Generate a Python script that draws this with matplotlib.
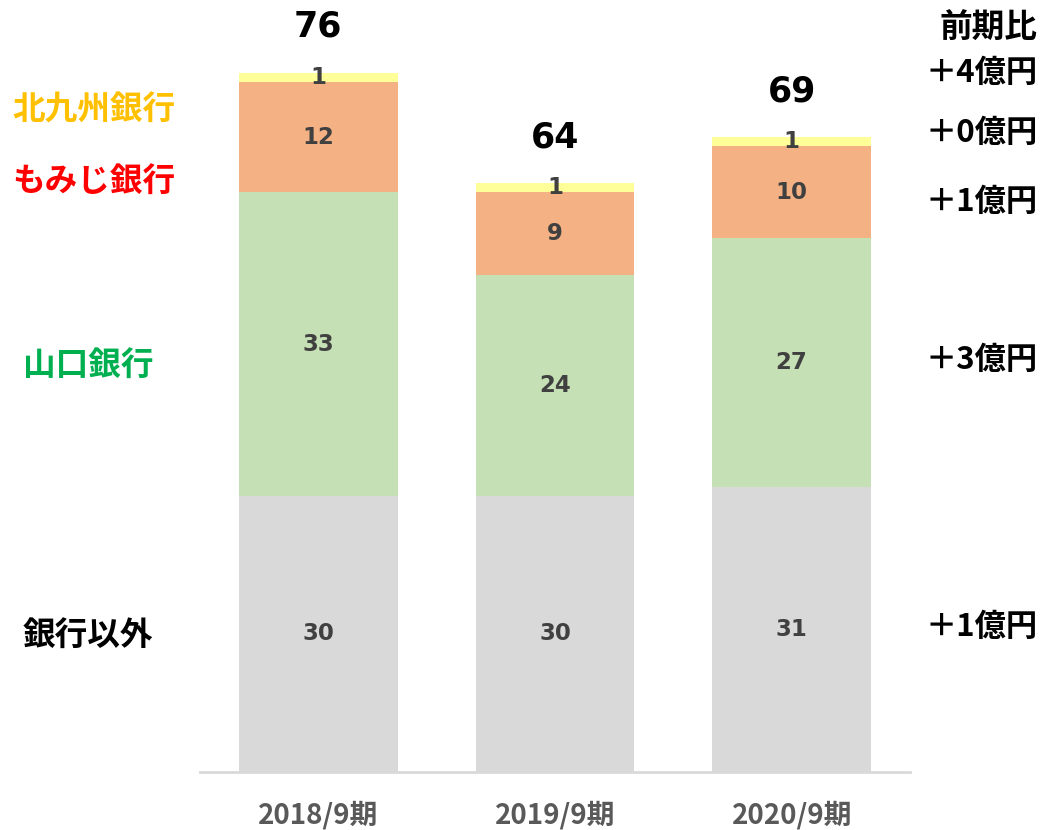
import matplotlib.pyplot as plt
import numpy as np

plt.rcParams['font.family'] = ['DejaVu Sans', 'Noto Sans CJK JP']

categories = ['2018/9期', '2019/9期', '2020/9期']
other = [30, 30, 31]        # 銀行以外
yamaguchi = [33, 24, 27]    # 山口銀行
momiji = [12, 9, 10]        # もみじ銀行
kitakyushu = [1, 1, 1]      # 北九州銀行
totals = [76, 64, 69]

series_names = ['銀行以外', '山口銀行', 'もみじ銀行', '北九州銀行']
diff_labels = ['＋1億円', '＋3億円', '＋1億円', '＋0億円']
total_diff = '＋4億円'

colors = ['#D9D9D9', '#C5E0B4', '#F4B183', '#FFFF99']
name_colors = ['#000000', '#00B050', '#FF0000', '#FFC000']

W, H = 1045, 830
fig = plt.figure(figsize=(W / 100, H / 100), dpi=100)
ax = fig.add_axes([200 / W, (H - 772) / H, 710 / W, 772 / H])

x = np.arange(len(categories))
bottom = np.zeros(len(categories))
for vals, col in zip([other, yamaguchi, momiji, kitakyushu], colors):
    vals = np.array(vals)
    ax.bar(x, vals, width=0.67, bottom=bottom, color=col, edgecolor='none')
    for xi, b, v in zip(x, bottom, vals):
        ax.text(xi, b + v / 2, str(v), ha='center', va='center',
                fontsize=16.5, fontweight='bold', color='#404040')
    bottom += vals

for xi, t in zip(x, totals):
    ax.text(xi, t + 5, str(t), ha='center', va='center',
            fontsize=25, fontweight='bold', color='black')

ax.set_xlim(-0.5, 2.5)
ax.set_ylim(0, 83.9)
ax.set_xticks(x)
ax.set_xticklabels(categories, fontsize=20, fontweight='bold', color='#595959',
                   family=['Noto Sans CJK JP'])
ax.tick_params(axis='x', length=0, pad=21)
ax.set_yticks([])
for s in ['top', 'left', 'right']:
    ax.spines[s].set_visible(False)
ax.spines['bottom'].set_color('#D9D9D9')
ax.spines['bottom'].set_linewidth(2)

# left-hand series names
name_pos = [(88, 636), (88, 366), (94, 182), (94, 110)]
for name, col, (px, py) in zip(series_names, name_colors, name_pos):
    fig.text(px / W, 1 - py / H, name, ha='center', va='center',
             fontsize=23.5, fontweight='bold', color=col,
             family=['Noto Sans CJK JP'])

# right-hand year-on-year changes
jp = ['Noto Sans CJK JP', 'DejaVu Sans']
fig.text(1037 / W, 1 - 28 / H, '前期比', ha='right', va='center',
         fontsize=23.5, fontweight='bold', family=jp)
fig.text(1038 / W, 1 - 73 / H, total_diff, ha='right', va='center',
         fontsize=22.5, fontweight='bold', family=jp)
diff_pos = [627, 360, 202, 133]
for lab, py in zip(diff_labels, diff_pos):
    fig.text(1038 / W, 1 - py / H, lab, ha='right', va='center',
             fontsize=22.5, fontweight='bold', family=jp)

fig.savefig('out.png', dpi=100)
